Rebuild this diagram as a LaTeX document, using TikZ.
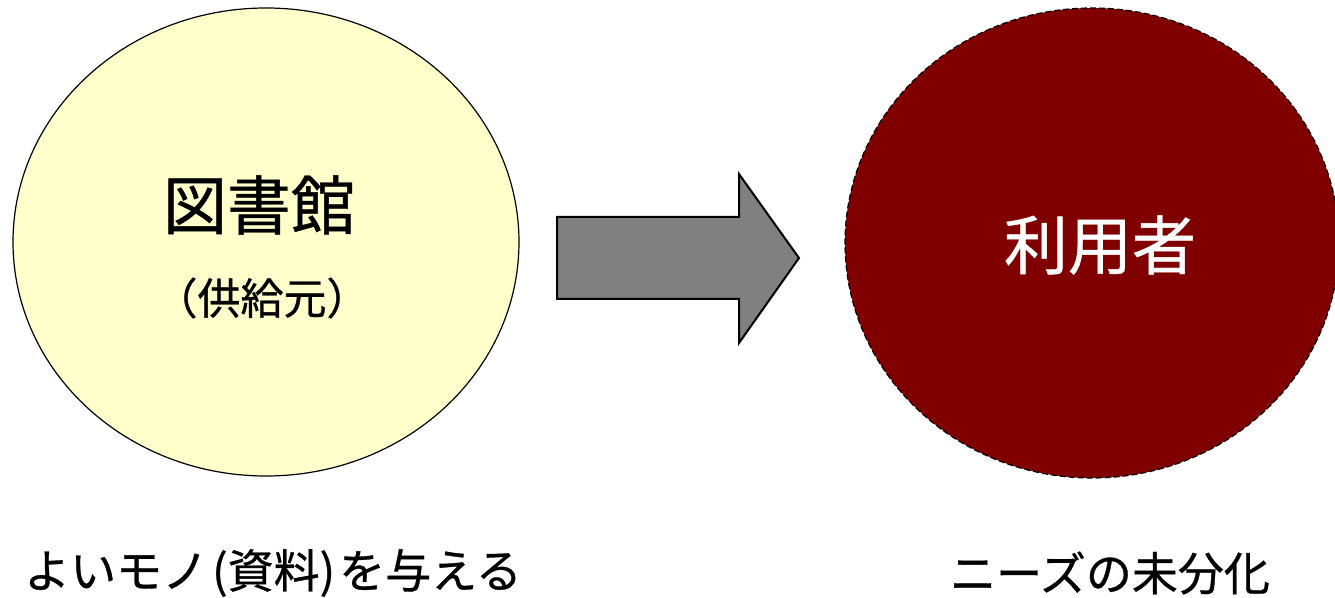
\documentclass[tikz,border=0pt]{standalone}
\usepackage{fontspec}
\setmainfont[AutoFakeBold=0.7]{Noto Sans CJK JP}
\definecolor{paleyellow}{HTML}{FFFFCC}
\definecolor{maroon}{HTML}{800000}
\definecolor{arrowgray}{HTML}{808080}
\begin{document}
\begin{tikzpicture}[x=0.5pt,y=-0.5pt,
  bigtext/.style={font=\fontsize{32}{36}\selectfont\bfseries, inner sep=0pt},
  midtext/.style={font=\fontsize{21.5}{25}\selectfont\bfseries, inner sep=0pt},
  captext/.style={font=\fontsize{23}{27}\selectfont\bfseries, inner sep=0pt},
  blobline/.style={line width=0.6pt}]
\useasboundingbox (0,0) rectangle (1335,598);
\begin{scope}
\clip (0,0) rectangle (1335,598);
\fill[paleyellow] (266,242) ellipse [x radius=253, y radius=234];
\draw[blobline] (266,242) ellipse [x radius=253, y radius=234];
\fill[maroon] (1092,243) ellipse [x radius=247, y radius=235];
\draw[blobline, dash pattern=on 3pt off 1.5pt] (1092,243) ellipse [x radius=247, y radius=235];
\end{scope}
\node[bigtext] (lib) at (259,205) {図書館};
\node[midtext] (src) at (262,298) {（供給元）};
\node[bigtext, text=white] (user) at (1100,245) {利用者};
\coordinate (arrowtail) at (557,258);
\coordinate (arrowtip) at (799,258);
\draw[fill=arrowgray, line width=1pt, line join=miter]
  (557,217) -- (739,217) -- (739,174) -- (arrowtip) -- (739,343) -- (739,299) -- (557,299) -- cycle;
\node[captext] (give) at (273,573) {よいモノ\kern2pt(資料)\kern2pt を与える};
\node[captext] (needs) at (1110,573) {ニーズの未分化};
\end{tikzpicture}
\end{document}
